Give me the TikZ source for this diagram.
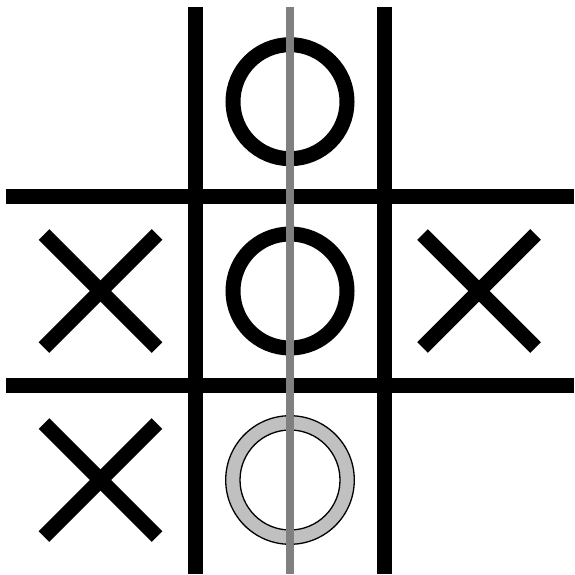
\documentclass[tikz,border=0pt]{standalone}
\definecolor{ringgray}{HTML}{C0C0C0}
\definecolor{axisgray}{HTML}{808080}
\tikzset{
  gridline/.style={line width=15pt, line cap=butt, black},
  xmark/.style={line width=15pt, line cap=butt, black},
  omark/.style={line width=15pt, black},
  ghost/.style={line width=1.3pt, draw=black, fill=ringgray, even odd rule},
  axis/.style={line width=8pt, line cap=butt, axisgray}
}
\begin{document}
\begin{tikzpicture}[x=1pt,y=-1pt]
  \useasboundingbox (0,0) rectangle (574,575);
  % grid
  \draw[gridline] (195.3,7) -- (195.3,573.5);
  \draw[gridline] (384.7,7) -- (384.7,573.5);
  \draw[gridline] (6,196.3) -- (573.5,196.3);
  \draw[gridline] (6,385.7) -- (573.5,385.7);
  % X marks
  \foreach \cx/\cy in {100.5/291, 479/291, 100.5/480} {
    \draw[xmark] (\cx-56.5,\cy-56.5) -- (\cx+56.5,\cy+56.5);
    \draw[xmark] (\cx-56.5,\cy+56.5) -- (\cx+56.5,\cy-56.5);
  }
  % O marks
  \draw[omark] (290,101.7) circle[radius=57];
  \draw[omark] (290,291) circle[radius=57];
  % ghost O
  \path[ghost] (290,480) circle[radius=64.3] (290,480) circle[radius=50];
  % vertical axis
  \draw[axis] (290,7) -- (290,573.5);
\end{tikzpicture}
\end{document}
